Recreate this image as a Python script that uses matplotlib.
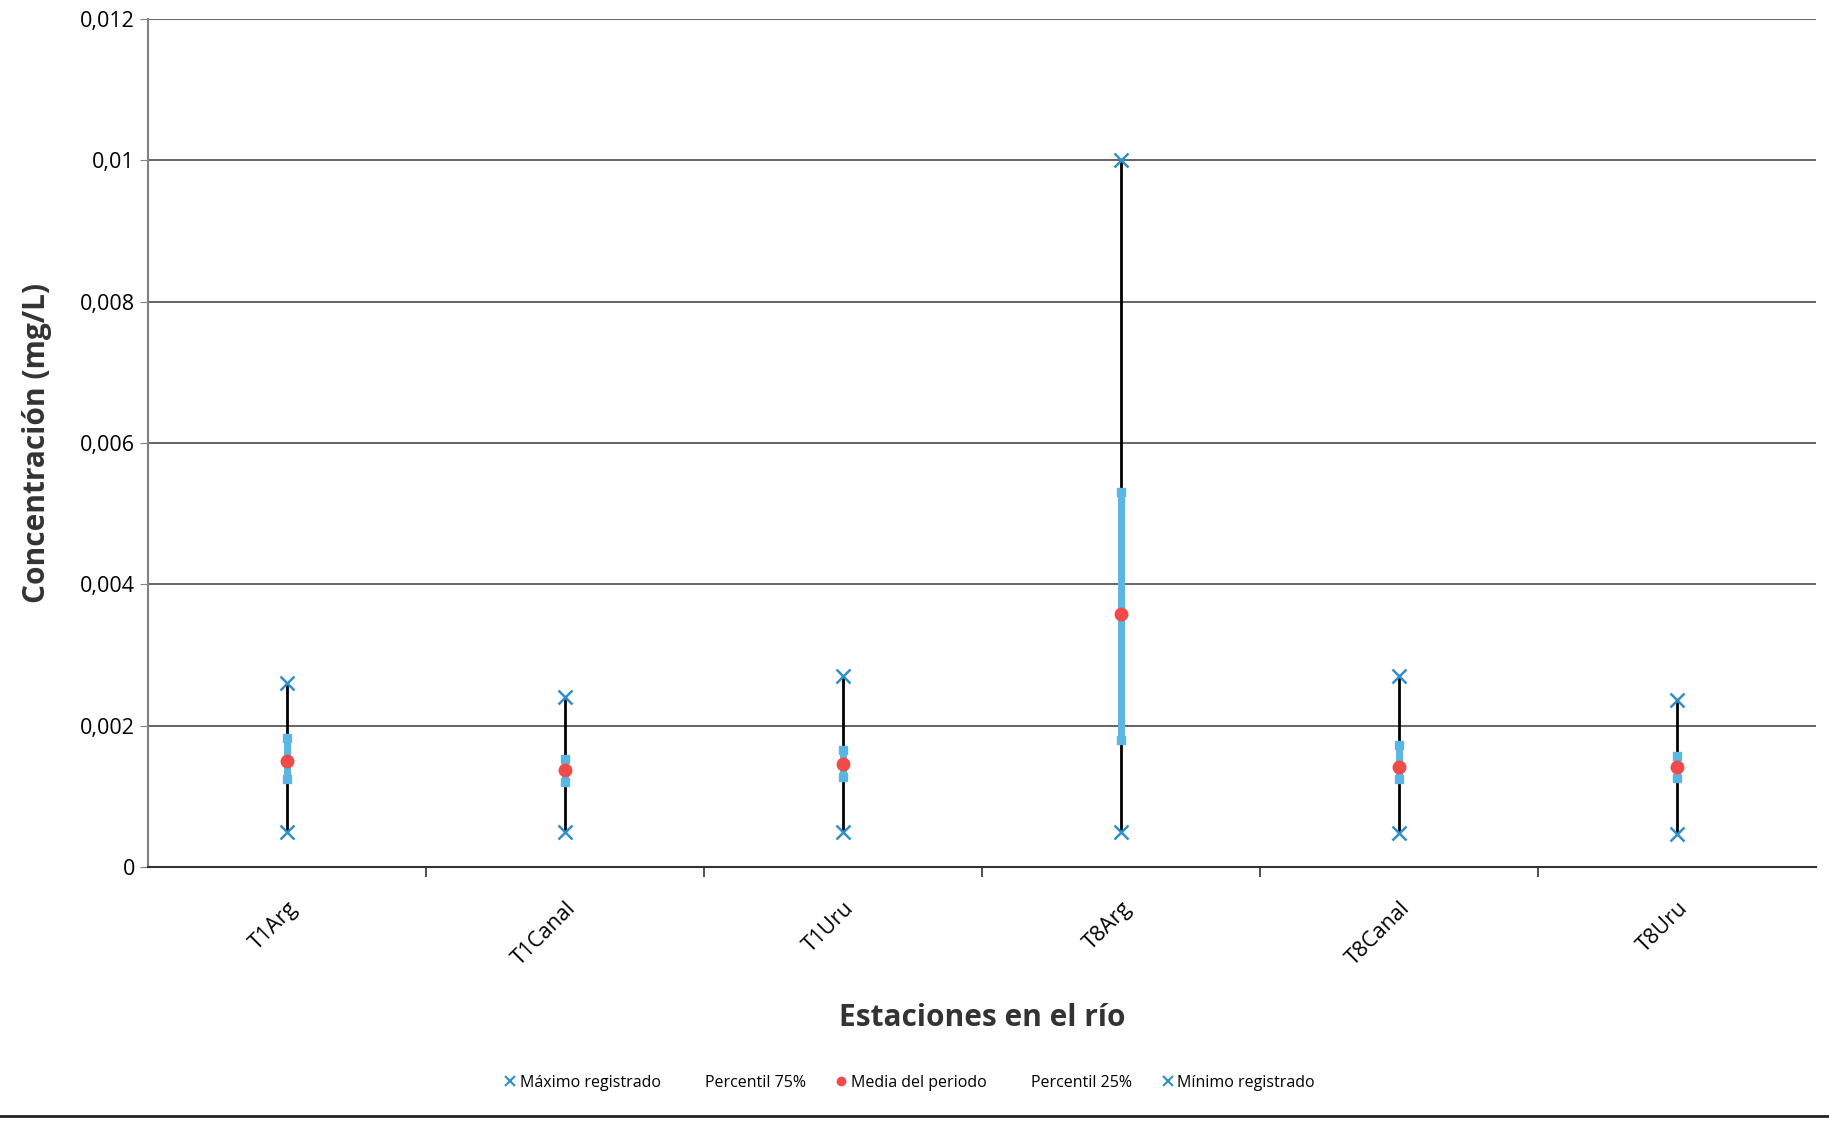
import matplotlib.pyplot as plt
from matplotlib.lines import Line2D
from matplotlib.ticker import FuncFormatter
import numpy as np

plt.rcParams['font.family'] = ['Open Sans', 'DejaVu Sans']

estaciones = ['T1Arg', 'T1Canal', 'T1Uru', 'T8Arg', 'T8Canal', 'T8Uru']
maximo = [0.0026, 0.0024, 0.0027, 0.0100, 0.0027, 0.00236]
p75 = [0.00182, 0.00153, 0.00165, 0.00530, 0.00173, 0.00157]
media = [0.00150, 0.00137, 0.00146, 0.00358, 0.00142, 0.00142]
p25 = [0.00125, 0.00120, 0.00128, 0.00180, 0.00124, 0.00126]
minimo = [0.00050, 0.00050, 0.00049, 0.00049, 0.00048, 0.00047]

azul = '#2f8fc8'
celeste = '#5ab6e2'
rojo = '#f04a4a'

fig = plt.figure(figsize=(18.29, 11.23), dpi=100)
ax = fig.add_axes([148/1829, 256/1123, 1668/1829, 848/1123])

x = np.arange(len(estaciones))

# linea min-max
ax.vlines(x, minimo, maximo, color='black', lw=2, zorder=3)
# barra entre percentiles
ax.vlines(x, p25, p75, color=celeste, lw=5, zorder=4)
ax.plot(x, p75, 's', color=celeste, ms=6, zorder=5)
ax.plot(x, p25, 's', color=celeste, ms=6, zorder=5)
ax.plot(x, maximo, 'x', color=azul, ms=10, mew=1.8, zorder=6)
ax.plot(x, minimo, 'x', color=azul, ms=10, mew=1.8, zorder=6)
ax.plot(x, media, 'o', color=rojo, ms=9, zorder=7)

ax.set_xlim(-0.5, len(estaciones) - 0.5)
ax.set_ylim(0, 0.012)
ax.set_yticks(np.arange(0, 0.0121, 0.002))
ax.yaxis.set_major_formatter(FuncFormatter(
    lambda v, p: '0' if v == 0 else ('%g' % round(v, 4)).replace('.', ',')))
ax.grid(axis='y', color='#3a3a3a', lw=1.1)
ax.set_axisbelow(True)

ax.set_xticks(x)
ax.set_xticklabels(estaciones, rotation=45, ha='right', rotation_mode='anchor', fontsize=15.5)
ax.set_xticks(np.arange(0.5, len(estaciones) - 0.5, 1), minor=True)
ax.tick_params(axis='x', which='major', length=0, pad=22)
ax.tick_params(axis='x', which='minor', length=7, width=1.2, color='#333333')
ax.tick_params(axis='y', labelsize=15.5, length=6, color='#808080')

for s in ['top', 'right']:
    ax.spines[s].set_visible(False)
ax.spines['left'].set_color('#808080')
ax.spines['left'].set_linewidth(1.5)
ax.spines['bottom'].set_color('#333333')
ax.spines['bottom'].set_linewidth(1.5)

ax.set_ylabel('Concentración (mg/L)', fontsize=21.5, fontweight='bold', color='#333333', labelpad=20)
ax.set_xlabel('Estaciones en el río', fontsize=21.5, fontweight='bold', color='#333333', labelpad=24)

handles = [
    Line2D([], [], ls='none', marker='x', color=azul, ms=7, mew=1.5),
    Line2D([], [], ls='none', marker='s', color='none', ms=6),
    Line2D([], [], ls='none', marker='o', color=rojo, ms=6),
    Line2D([], [], ls='none', marker='s', color='none', ms=6),
    Line2D([], [], ls='none', marker='x', color=azul, ms=7, mew=1.5),
]
etiquetas = ['Máximo registrado', 'Percentil 75%', 'Media del periodo', 'Percentil 25%', 'Mínimo registrado']
fig.legend(handles, etiquetas, loc='center', bbox_to_anchor=(910/1829, 1 - 1083/1123), ncol=5,
           frameon=False, fontsize=11.5, handlelength=0.6, handletextpad=0.3, columnspacing=1.9)

fig.add_artist(Line2D([0, 1], [1 - 1116/1123, 1 - 1116/1123], color='#222222', lw=2))

fig.savefig('out.png', dpi=100)
